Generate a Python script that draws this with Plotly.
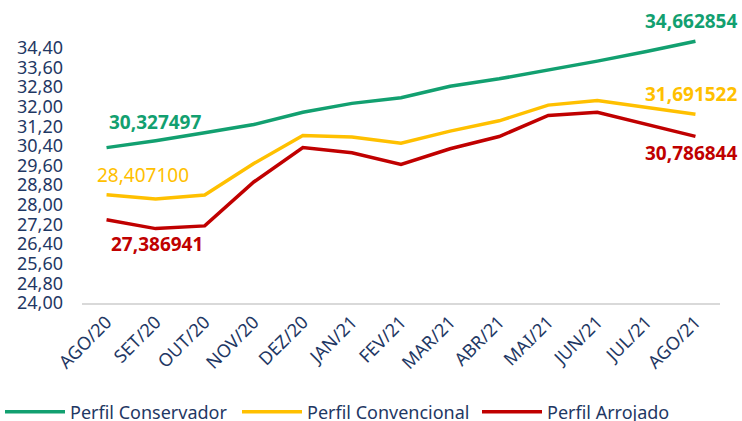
import plotly.graph_objects as go

months = ["AGO/20", "SET/20", "OUT/20", "NOV/20", "DEZ/20", "JAN/21", "FEV/21",
          "MAR/21", "ABR/21", "MAI/21", "JUN/21", "JUL/21", "AGO/21"]
conservador = [30.327497, 30.61, 30.93, 31.27, 31.77, 32.13, 32.36, 32.83, 33.13, 33.48, 33.85, 34.24, 34.662854]
convencional = [28.407100, 28.24, 28.40, 29.68, 30.82, 30.76, 30.51, 31.00, 31.42, 32.06, 32.25, 31.98, 31.691522]
arrojado = [27.386941, 27.03, 27.14, 28.93, 30.33, 30.12, 29.64, 30.28, 30.78, 31.64, 31.77, 31.27, 30.786844]
tick_vals = [24.0, 24.8, 25.6, 26.4, 27.2, 28.0, 28.8, 29.6, 30.4, 31.2, 32.0, 32.8, 33.6, 34.4]
tick_text = [f"{v:.2f}".replace(".", ",") for v in tick_vals]

GREEN = "#12A070"
YELLOW = "#FFC000"
RED = "#C00000"
NAVY = "#1F3864"
FONT = "Noto Sans"

fig = go.Figure()
for name, vals, col, lg in [("Perfil Conservador", conservador, GREEN, "legend"),
                            ("Perfil Convencional", convencional, YELLOW, "legend"),
                            ("Perfil Arrojado", arrojado, RED, "legend2")]:
    fig.add_trace(go.Scatter(x=months, y=vals, mode="lines", name=name, legend=lg,
                             line=dict(color=col, width=3.5), hoverinfo="skip"))

def fmt(v):
    return f"{v:.6f}".replace(".", ",")

labels = [
    (months[0], conservador[0], GREEN, True, "center", 48, 26),
    (months[0], convencional[0], YELLOW, False, "center", 36, 20),
    (months[0], arrojado[0], RED, True, "center", 50, -24),
    (months[-1], conservador[-1], GREEN, True, "right", 44, 20),
    (months[-1], convencional[-1], YELLOW, True, "right", 44, 20),
    (months[-1], arrojado[-1], RED, True, "right", 44, -17),
]
for x, y, col, bold, xa, xs, ys in labels:
    txt = fmt(y)
    if bold:
        txt = f"<b>{txt}</b>"
    fig.add_annotation(x=x, y=y, text=txt, showarrow=False, xshift=xs, yshift=ys,
                       font=dict(family=FONT, size=19, color=col),
                       xanchor=xa, yanchor="middle")

legend_common = dict(orientation="h", xref="container", yref="container",
                     xanchor="left", y=9 / 421, yanchor="middle",
                     font=dict(family=FONT, size=18, color=NAVY), itemwidth=60,
                     entrywidth=162, bgcolor="rgba(0,0,0,0)")

fig.update_layout(
    width=742, height=421,
    margin=dict(l=82, r=22, t=28, b=118),
    paper_bgcolor="white", plot_bgcolor="white",
    font=dict(family=FONT, color=NAVY),
    xaxis=dict(range=[-0.5, 12.5], showgrid=False, showline=True, linecolor="#D9D9D9",
               linewidth=1.5, tickangle=-45, tickfont=dict(family=FONT, size=18, color=NAVY),
               ticks="", zeroline=False, automargin=False, fixedrange=True),
    yaxis=dict(range=[24, 35.2], tickvals=tick_vals, ticktext=tick_text,
               showgrid=False, showline=False, zeroline=False, automargin=False,
               tickfont=dict(family=FONT, size=18, color=NAVY), ticks="",
               ticklabelstandoff=18, fixedrange=True),
    showlegend=True,
    legend=dict(x=0.0, **legend_common),
    legend2=dict(x=477 / 742, **legend_common),
)
fig.write_html("out.html", config={"displayModeBar": False, "staticPlot": True},
               post_script="document.body.style.margin='0';")
